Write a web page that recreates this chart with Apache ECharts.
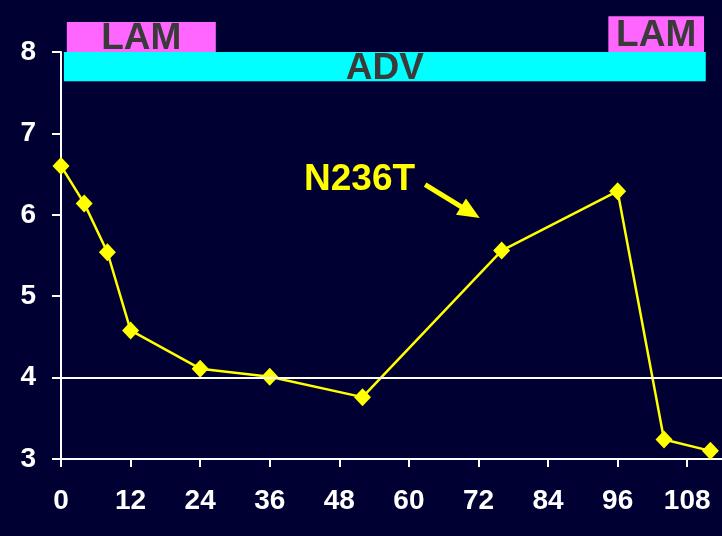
<!DOCTYPE html>
<html>
<head>
<meta charset="utf-8">
<script src="https://cdn.jsdelivr.net/npm/echarts@6/dist/echarts.min.js"></script>
<style>
  html, body { margin: 0; padding: 0; background: #000033; }
  #chart { width: 722px; height: 536px; }
</style>
</head>
<body>
<div id="chart"></div>
<script>
  // months on therapy and viral load (log)
  const months = [0, 4, 8, 12, 24, 36, 52, 76, 96, 104, 112]
  const viralLoad = [6.6, 6.14, 5.54, 4.58, 4.11, 4.01, 3.76, 5.56, 6.29, 3.24, 3.1]

  // treatment bands: [start, end, low, high]
  const bandNames = ['LAM', 'ADV', 'LAM']
  const bandStart = [1, 0.5, 94.4]
  const bandEnd = [26.7, 111.2, 110.9]
  const bandLow = [8, 7.64, 8]
  const bandHigh = [8.37, 8, 8.44]

  const xTicks = [0, 12, 24, 36, 48, 60, 72, 84, 96, 108]

  const font = '"Liberation Sans", Arial, sans-serif'
  const bandFill = { LAM: '#ff66ff', ADV: '#00ffff' }

  const chart = echarts.init(document.getElementById('chart'))

  chart.setOption({
    backgroundColor: '#000033',
    animation: false,
    grid: { left: 61, right: 0, top: 52, bottom: 77 },
    xAxis: {
      type: 'value',
      min: 0,
      max: 114,
      interval: 12,
      axisLine: { lineStyle: { color: '#ffffff', width: 2 } },
      axisTick: { show: true, length: 8, lineStyle: { color: '#ffffff', width: 2 } },
      axisLabel: {
        color: '#ffffff',
        fontSize: 28,
        fontWeight: 'bold',
        fontFamily: font,
        margin: 28,
        showMaxLabel: false,
        formatter: v => (xTicks.indexOf(v) >= 0 ? String(v) : '')
      },
      splitLine: { show: false }
    },
    yAxis: {
      type: 'value',
      min: 3,
      max: 8,
      interval: 1,
      axisLine: { show: true, lineStyle: { color: '#ffffff', width: 2 } },
      axisTick: { show: true, length: 9, lineStyle: { color: '#ffffff', width: 2 } },
      axisLabel: {
        color: '#ffffff',
        fontSize: 28,
        fontWeight: 'bold',
        fontFamily: font,
        margin: 25
      },
      splitLine: { show: false }
    },
    graphic: [{
      type: 'text',
      left: 304,
      top: 161,
      style: {
        text: 'N236T',
        fill: '#ffff00',
        font: 'bold 37px ' + font,
        textShadowColor: '#000000',
        textShadowOffsetX: 2,
        textShadowOffsetY: 2
      }
    }],
    series: [
      {
        type: 'custom',
        clip: false,
        z: 1,
        data: bandNames.map((n, i) => [bandStart[i], bandEnd[i], bandLow[i], bandHigh[i], i]),
        encode: { x: [0, 1], y: [2, 3] },
        renderItem: function (params, api) {
          const i = api.value(4)
          const p1 = api.coord([api.value(0), api.value(3)])
          const p2 = api.coord([api.value(1), api.value(2)])
          const name = bandNames[i]
          return {
            type: 'rect',
            shape: { x: p1[0], y: p1[1], width: p2[0] - p1[0], height: p2[1] - p1[1] },
            style: { fill: bandFill[name] },
            textContent: {
              style: {
                text: name,
                fill: '#3a3a3a',
                font: 'bold 37px ' + font,
                textShadowColor: '#000000',
                textShadowOffsetX: 1.5,
                textShadowOffsetY: 1.5
              }
            },
            textConfig: { position: 'inside', offset: [0, 2] }
          }
        }
      },
      {
        type: 'line',
        z: 3,
        data: months.map((m, i) => [m, viralLoad[i]]),
        symbol: 'diamond',
        symbolSize: [17, 18],
        lineStyle: { color: '#ffff00', width: 2.5 },
        itemStyle: { color: '#ffff00' },
        markLine: {
          silent: true,
          symbol: ['none', 'none'],
          label: { show: false },
          data: [
            {
              yAxis: 4,
              lineStyle: { color: '#ffffff', width: 2, type: 'solid' }
            },
            [
              { coord: [62.8, 6.37], symbol: 'none' },
              {
                coord: [70.6, 6.03],
                symbol: 'triangle',
                symbolSize: [19, 22],
                lineStyle: { color: '#ffff00', width: 5, type: 'solid' },
                itemStyle: { color: '#ffff00' }
              }
            ]
          ]
        }
      }
    ]
  })
</script>
</body>
</html>
